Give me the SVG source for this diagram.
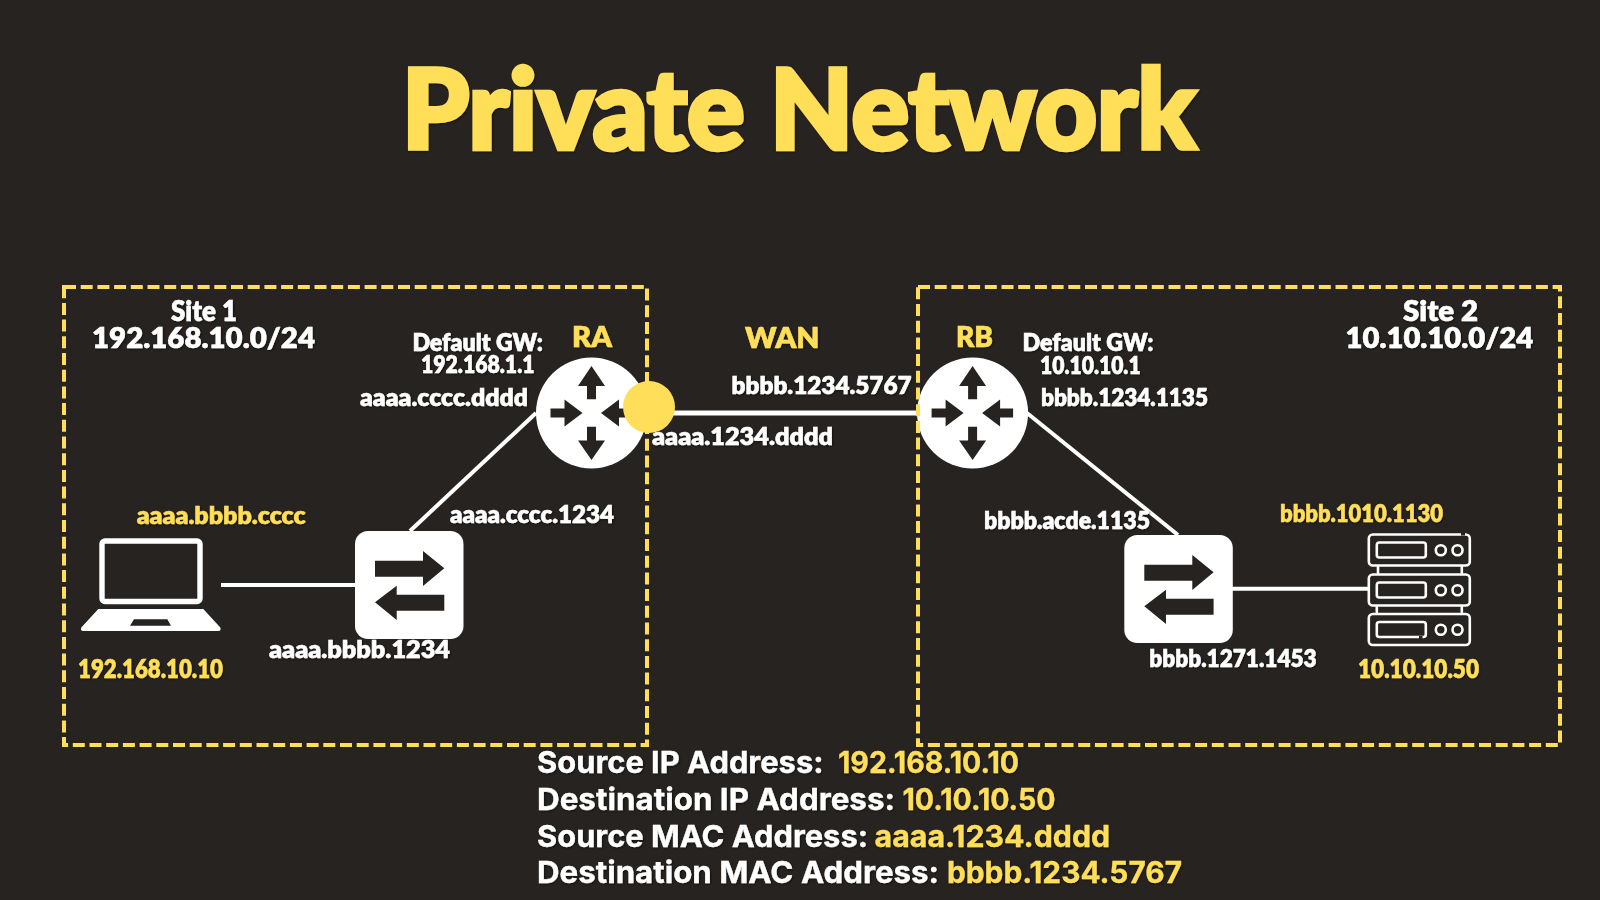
<svg xmlns="http://www.w3.org/2000/svg" width="1600" height="900" viewBox="0 0 1600 900">
<style>
text{font-family:"Lato","Liberation Sans",sans-serif;font-weight:800;fill:#fff;stroke:#fff;stroke-width:.5;filter:url(#sh)}
text.y{fill:#FFDE59;stroke:#FFDE59}
text.t{font-size:110px;font-weight:900;stroke-width:4.500;stroke-linejoin:miter}
.h{font-size:29px}
.m{font-size:24px}
text.b{font-family:"Inter","Liberation Sans",sans-serif;font-size:30px;font-weight:700;stroke-width:.3}
.site{fill:none;stroke:#FFDE59;stroke-width:4;stroke-dasharray:12 4.7}
.link{stroke:#fff;stroke-width:4;fill:none}
.hw{fill:#fff}
.cut{fill:#272320}
.ln{fill:none;stroke:#fff;stroke-width:2.6;stroke-linecap:round}
</style>
<defs>
<filter id="sh" x="-5%" y="-20%" width="110%" height="150%"><feDropShadow dx="1" dy="1" stdDeviation="1.2" flood-color="#000" flood-opacity=".55"/></filter>
<g id="router">
<circle r="55.5" class="hw"/>
<path class="cut" d="M0-47L13.500-27H4.500V-13.700H-4.500V-27H-13.500ZM0 47L13.500 27.500H4.500V13.700H-4.500V27.500H-13.500ZM-9 0L-27-13.500V-4.500H-41V4.500H-27V13.500ZM9.500 0L27.500-13.500V-4.500H40.500V4.500H27.500V13.500Z"/>
</g>
<g id="switch">
<rect width="108.500" height="108" rx="13" class="hw"/>
<path class="cut" d="M20 29.700H68V20L89.300 37.300 68 55V45.700H20ZM89.300 63.700H41.700V54.700L20 71.300 41.700 89V79.700H89.300Z"/>
</g>
<g id="unit">
<rect x="1" y="1" width="101" height="31" rx="4" class="ln"/>
<rect x="9" y="9" width="49" height="15" rx="2.500" class="ln"/>
<circle cx="73" cy="16.700" r="5" class="ln"/>
<circle cx="89.700" cy="16.700" r="5" class="ln"/>
</g>
</defs>
<rect width="1600" height="900" fill="#272320"/>
<text class="t y" x="402" y="149" textLength="794" lengthAdjust="spacingAndGlyphs">Private Network</text>

<g id="connectors">
<line class="link" x1="221" y1="585" x2="356" y2="585"/>
<line class="link" x1="536" y1="413" x2="410" y2="531"/>
<line class="link" x1="649" y1="413" x2="920" y2="413" style="stroke-width:5"/>
<line class="link" x1="1027" y1="413" x2="1178" y2="535"/>
<line class="link" x1="1232" y1="588.700" x2="1368" y2="588.700"/>
</g>

<g id="router-a"><use href="#router" x="591.500" y="413"/></g>
<g id="router-b"><use href="#router" x="972.600" y="413"/></g>

<g id="site-1"><rect class="site" x="64" y="287" width="583" height="458"/>
<text class="h" x="171" y="320.700" textLength="66" lengthAdjust="spacingAndGlyphs">Site 1</text>
<text class="h" x="92" y="347.700" textLength="223" lengthAdjust="spacingAndGlyphs">192.168.10.0/24</text></g>
<g id="site-2"><rect class="site" x="918" y="287" width="642" height="458"/>
<text class="h" x="1403" y="320.700" textLength="75" lengthAdjust="spacingAndGlyphs">Site 2</text>
<text class="h" x="1345.600" y="347.700" textLength="187.500" lengthAdjust="spacingAndGlyphs">10.10.10.0/24</text></g>

<g id="router-a-labels">
<text class="h y" x="572" y="346.700" textLength="40" lengthAdjust="spacingAndGlyphs">RA</text>
<text class="m" x="412.400" y="351" textLength="130.600" lengthAdjust="spacingAndGlyphs">Default GW:</text>
<text class="m" x="421" y="373.300" textLength="113.500" lengthAdjust="spacingAndGlyphs">192.168.1.1</text>
<text class="m" x="360" y="406" textLength="168" lengthAdjust="spacingAndGlyphs">aaaa.cccc.dddd</text>
<text class="m" x="450" y="522.500" textLength="164" lengthAdjust="spacingAndGlyphs">aaaa.cccc.1234</text>
</g>
<g id="wan-port"><circle cx="649" cy="407" r="26" fill="#FFDE59"/>
<text class="h y" x="745" y="347.700" textLength="74.400" lengthAdjust="spacingAndGlyphs">WAN</text>
<text class="m" x="731.600" y="394" textLength="180" lengthAdjust="spacingAndGlyphs">bbbb.1234.5767</text>
<text class="m" x="652" y="444.500" textLength="181" lengthAdjust="spacingAndGlyphs">aaaa.1234.dddd</text>
</g>
<g id="router-b-labels">
<text class="h y" x="956" y="346.700" textLength="37" lengthAdjust="spacingAndGlyphs">RB</text>
<text class="m" x="1022.600" y="351" textLength="130.800" lengthAdjust="spacingAndGlyphs">Default GW:</text>
<text class="m" x="1040" y="374" textLength="100.600" lengthAdjust="spacingAndGlyphs">10.10.10.1</text>
<text class="m" x="1041" y="406" textLength="167" lengthAdjust="spacingAndGlyphs">bbbb.1234.1135</text>
<text class="m" x="984" y="528.500" textLength="166" lengthAdjust="spacingAndGlyphs">bbbb.acde.1135</text>
</g>

<g id="laptop">
<rect x="102" y="541" width="98" height="60.500" rx="3" fill="none" stroke="#fff" stroke-width="5.400"/>
<path class="hw" fill-rule="evenodd" d="M98.300 609H203.300L220.300 627.500Q221.500 631 218 631H83.500Q80 631 81.300 627.500ZM134 619.300L130 625.700H171L167.300 619.300Z"/>
<text class="m y" x="136.700" y="523.500" textLength="169" lengthAdjust="spacingAndGlyphs">aaaa.bbbb.cccc</text>
<text class="m y" x="78" y="678.300" textLength="145" lengthAdjust="spacingAndGlyphs" style="font-size:26px">192.168.10.10</text>
</g>
<g id="switch-a"><use href="#switch" x="355" y="531"/>
<text class="m" x="269" y="657.700" textLength="181" lengthAdjust="spacingAndGlyphs">aaaa.bbbb.1234</text></g>
<g id="switch-b"><use href="#switch" x="1124.300" y="535"/>
<text class="m" x="1149.300" y="667.300" textLength="167.400" lengthAdjust="spacingAndGlyphs">bbbb.1271.1453</text></g>
<g id="server">
<use href="#unit" x="1367.800" y="533.500"/>
<use href="#unit" x="1367.800" y="573.500"/>
<use href="#unit" x="1367.800" y="613"/>
<path class="ln" d="M1378 566.500V573M1461.800 566.500V573M1376.800 606.500V612M1461.800 606.500V612"/>
<path d="M1461 531.500h4v4h-4zM1419 636h3.500v4h-3.500z" fill="#272320"/>
<text class="m y" x="1280" y="522.300" textLength="163" lengthAdjust="spacingAndGlyphs">bbbb.1010.1130</text>
<text class="m y" x="1358" y="678.300" textLength="121" lengthAdjust="spacingAndGlyphs" style="font-size:26px">10.10.10.50</text>
</g>

<g id="summary">
<text class="b" x="537" y="773.300" textLength="286.500" lengthAdjust="spacingAndGlyphs">Source IP Address:</text>
<text class="b y" x="838" y="773.300" textLength="181" lengthAdjust="spacingAndGlyphs">192.168.10.10</text>
<text class="b" x="537" y="810" textLength="358" lengthAdjust="spacingAndGlyphs">Destination IP Address:</text>
<text class="b y" x="902.500" y="810" textLength="153" lengthAdjust="spacingAndGlyphs">10.10.10.50</text>
<text class="b" x="537" y="846.700" textLength="331" lengthAdjust="spacingAndGlyphs">Source MAC Address:</text>
<text class="b y" x="874.600" y="846.700" textLength="235.500" lengthAdjust="spacingAndGlyphs">aaaa.1234.dddd</text>
<text class="b" x="537" y="883.300" textLength="402" lengthAdjust="spacingAndGlyphs">Destination MAC Address:</text>
<text class="b y" x="947" y="883.300" textLength="235" lengthAdjust="spacingAndGlyphs">bbbb.1234.5767</text>
</g>
</svg>
